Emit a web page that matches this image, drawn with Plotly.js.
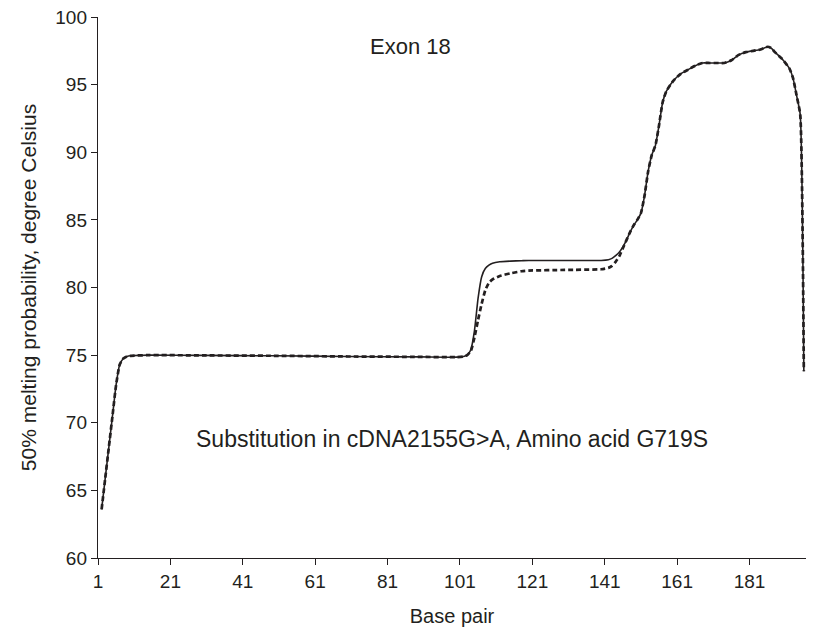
<!DOCTYPE html>
<html>
<head>
<meta charset="utf-8">
<script src="https://cdn.plot.ly/plotly-3.0.1.min.js"></script>
<style>html,body{margin:0;padding:0;background:#fff;}#chart{width:815px;height:637px;}</style>
</head>
<body>
<div id="chart"></div>
<script>
// Base pair positions
const basePair = [2,3,4,5,6,7,8,9,10,15,30,50,70,90,100,102,103,104,105,106,107,108,109,110,112,115,118,120,130,140,142,143,144,145,146,147,148,149,150,151,152,153,154,155,156,157,158,160,162,164,166,168,170,172,174,176,178,180,182,184,186,187,188,190,192,193,194,195,196];
// Wild type (solid)
const solidTm = [63.6,65.9,68.2,70.5,72.8,74.3,74.75,74.9,74.95,75.0,74.98,74.95,74.9,74.87,74.85,74.9,75.0,75.4,76.8,79.2,80.8,81.4,81.65,81.8,81.9,81.95,81.98,82.0,82.0,82.0,82.05,82.15,82.35,82.6,83.0,83.5,84.1,84.6,85.0,85.5,86.8,88.6,89.8,90.5,92.0,93.7,94.5,95.3,95.8,96.1,96.4,96.6,96.6,96.6,96.6,96.8,97.2,97.4,97.5,97.6,97.8,97.7,97.4,96.9,96.2,95.5,94.2,92.8,73.8];
// Mutant G719S (dashed)
const dashedTm = [63.6,65.9,68.2,70.5,72.8,74.3,74.75,74.9,74.95,75.0,74.98,74.95,74.9,74.87,74.85,74.9,75.0,75.3,76.3,77.6,78.8,79.8,80.35,80.6,80.85,81.05,81.2,81.25,81.3,81.35,81.45,81.6,81.9,82.3,82.9,83.5,84.1,84.6,85.0,85.5,86.8,88.6,89.8,90.5,92.0,93.7,94.5,95.3,95.8,96.1,96.4,96.6,96.6,96.6,96.6,96.8,97.2,97.4,97.5,97.6,97.8,97.7,97.4,96.9,96.2,95.5,94.2,92.8,73.8];
const xTicks = [1,21,41,61,81,101,121,141,161,181];
const yTicks = [60,65,70,75,80,85,90,95,100];

const ink = '#231f20';
const fam = 'Liberation Sans, Arial, sans-serif';
const tickFont = {family: fam, size: 19, color: ink};
const titleFont = {family: fam, size: 21, color: ink};
const noteFont = {family: fam, size: 23, color: ink};

const traces = [
  {x: basePair, y: solidTm, type: 'scatter', mode: 'lines', line: {color: ink, width: 1.6, shape: 'spline', smoothing: 0.5}, name: 'Wild type'},
  {x: basePair, y: dashedTm, type: 'scatter', mode: 'lines', line: {color: ink, width: 2.7, dash: '5px,3px', shape: 'spline', smoothing: 0.5}, name: 'G719S'}
];

const layout = {
  width: 815, height: 637,
  margin: {l: 98, r: 9, t: 17, b: 79},
  paper_bgcolor: '#fff', plot_bgcolor: '#fff',
  showlegend: false,
  font: tickFont,
  xaxis: {
    range: [1, 196.6], tickmode: 'array', tickvals: xTicks, ticktext: xTicks.map(String),
    showline: true, linecolor: ink, linewidth: 1.2, ticks: 'outside', ticklen: 6, tickcolor: ink,
    showgrid: false, zeroline: false, tickfont: tickFont,
    title: {text: 'Base pair', font: {family: fam, size: 20, color: ink}, standoff: 18}
  },
  yaxis: {
    range: [60, 100], tickmode: 'array', tickvals: yTicks, ticktext: yTicks.map(String),
    showline: true, linecolor: ink, linewidth: 1.2, ticks: 'outside', ticklen: 6, tickcolor: ink,
    showgrid: false, zeroline: false, tickfont: tickFont,
    title: {text: '50% melting probability, degree Celsius', font: titleFont, standoff: 13}
  },
  annotations: [
    {x: 87.2, y: 97.8, xref: 'x', yref: 'y', text: 'Exon 18', showarrow: false, font: {family: fam, size: 22, color: ink}},
    {x: 98.8, y: 68.8, xref: 'x', yref: 'y', text: 'Substitution in cDNA2155G>A, Amino acid G719S', showarrow: false, font: noteFont}
  ]
};

Plotly.newPlot('chart', traces, layout, {staticPlot: true, displayModeBar: false});
</script>
</body>
</html>
